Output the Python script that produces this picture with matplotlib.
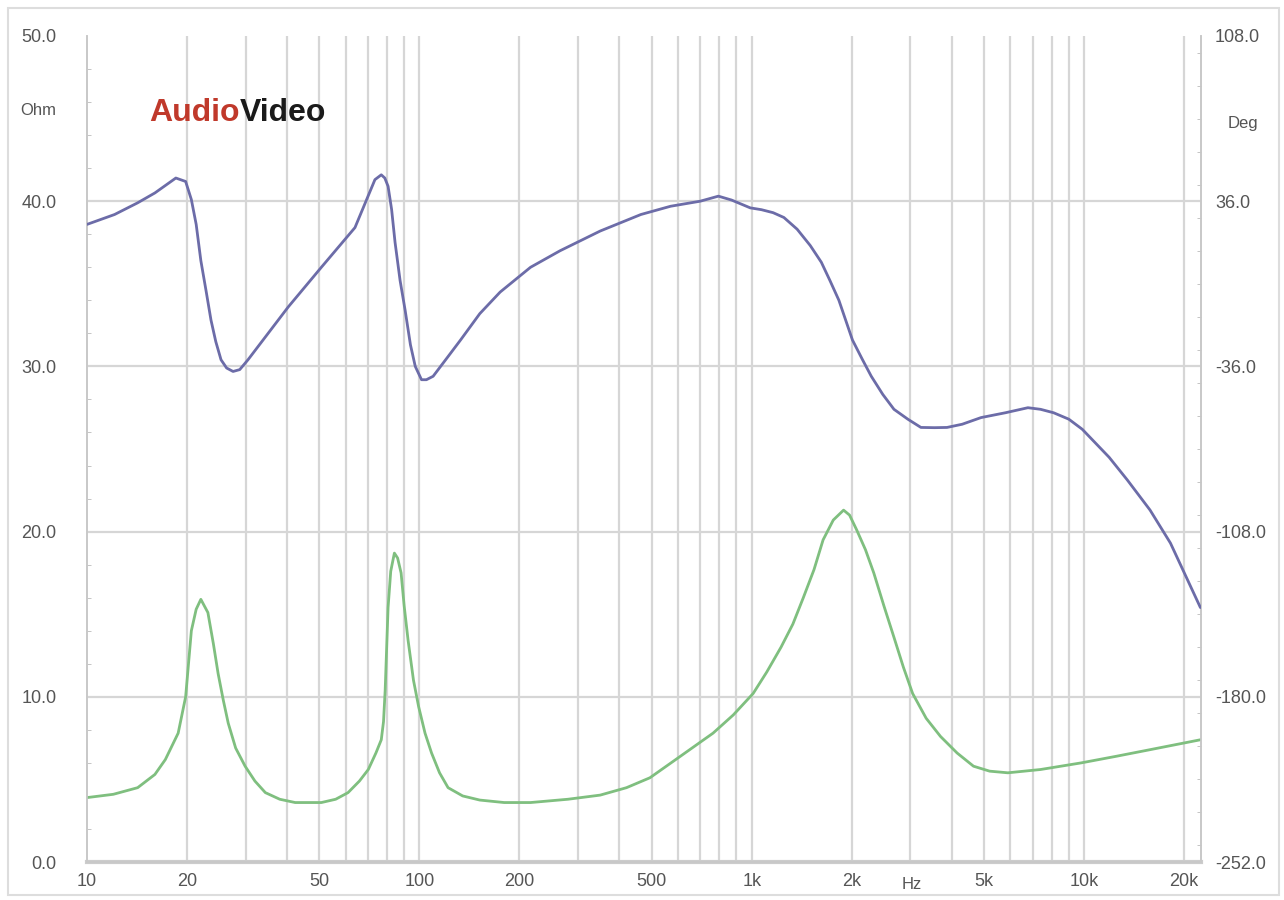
import numpy as np
import matplotlib
matplotlib.use("Agg")
from matplotlib import pyplot as plt
from matplotlib.ticker import FixedLocator, MultipleLocator, NullFormatter
from matplotlib.patches import Rectangle

# impedance magnitude (Ohm)
imp_freq = [10, 12, 14.2, 16, 17.2, 18.8, 19.8, 20.6, 21.3, 22.0, 23.1, 24.0, 24.8,
            25.7, 26.6, 28, 29.9, 32, 34.4, 38, 42.3, 50.7, 56, 61, 66, 70.2, 74,
            76.8, 78, 78.9, 80.5, 82, 84.1, 86, 88.1, 90, 92.5, 96, 99.5, 104, 108.8,
            115, 122, 135, 152, 180, 216, 280, 350, 420, 494, 610, 765, 880, 1010,
            1110, 1225, 1330, 1430, 1540, 1640, 1760, 1890, 1970, 2070, 2200, 2330,
            2500, 2680, 2860, 3050, 3350, 3700, 4150, 4650, 5200, 5900, 7400, 9800,
            12500, 15800, 22400]
imp_ohm = [3.9, 4.1, 4.5, 5.3, 6.2, 7.8, 10.0, 14.0, 15.3, 15.9, 15.1, 13.2, 11.4,
           9.8, 8.4, 6.9, 5.8, 4.9, 4.2, 3.8, 3.6, 3.6, 3.8, 4.2, 4.9, 5.6, 6.6,
           7.4, 8.5, 10.4, 15.4, 17.6, 18.7, 18.4, 17.5, 15.5, 13.4, 11.0, 9.4, 7.8, 6.6,
           5.4, 4.5, 4.0, 3.75, 3.6, 3.6, 3.8, 4.05, 4.5, 5.1, 6.4, 7.8, 8.9, 10.2,
           11.5, 13.0, 14.4, 16.0, 17.7, 19.5, 20.7, 21.3, 21.0, 20.1, 18.9, 17.5,
           15.5, 13.6, 11.8, 10.2, 8.7, 7.6, 6.6, 5.8, 5.5, 5.4, 5.6, 6.0,
           6.4, 6.8, 7.4]

ph_freq = [10, 12.1, 14.2, 16, 18.5, 19.8, 20.6, 21.3, 22.0, 22.8, 23.6, 24.4, 25.3,
           26.3, 27.5, 28.8, 30.5, 40.3, 50.7, 64.0, 73.5, 76.8, 78.7, 80.5, 82.5,
           84.5, 87.5, 90.6, 94, 97.2, 101.5, 105, 110, 122, 133, 152, 175, 216, 265,
           350, 464, 570, 700, 794, 870, 990, 1070, 1160, 1250, 1370, 1500, 1620, 1720,
           1830, 2010, 2150, 2290, 2480, 2680, 2950, 3230, 3550, 3870, 4300, 4900,
           5800, 6780, 7400, 8100, 9000, 9880, 11900, 13500, 15800, 18200, 22400]
ph_deg = [25.9, 30.2, 35.3, 39.6, 46.1, 44.6, 36.7, 25.9, 10.1, -2.9, -15.8, -25.2, -33.1,
          -36.7, -38.2, -37.4, -33.1, -10.1, 7.2, 24.5, 45.4, 47.5, 46.1, 42.5, 32.4,
          18.0, 1.4, -11.5, -26.6, -36.0, -41.8, -41.8, -40.3, -31.7, -24.5, -13.0, -3.6, 7.2, 14.4,
          23.0, 30.2, 33.8, 36.0, 38.2, 36.5, 33.1, 32.3, 31.0, 28.9, 23.8, 16.7, 9.4, 1.4,
          -7.2, -24.5, -32.8, -40.3, -48.2, -54.7, -59.0, -62.6, -62.7, -62.6, -61.2, -58.3,
          -56.2, -54.0, -54.7, -56.2, -59.0, -63.4, -75.6, -85.5, -98.6, -113.0, -141.1]

y_ticks = [0, 10, 20, 30, 40, 50]
deg_ticks = [-252, -180, -108, -36, 36, 108]
x_ticks = [10, 20, 50, 100, 200, 500, 1000, 2000, 5000, 10000, 20000]
x_labels = ["10", "20", "50", "100", "200", "500", "1k", "2k", "5k", "10k", "20k"]

plt.rcParams['font.family'] = ['Liberation Sans', 'DejaVu Sans']
txt = '#555555'
grid_c = '#d6d6d6'

fig = plt.figure(figsize=(12.84, 9.0), dpi=100)
fig.patches.append(Rectangle((0.006, 0.006), 0.99, 0.985, transform=fig.transFigure,
                             fill=False, edgecolor='#dddddd', lw=1.5))
ax = fig.add_axes([0.0678, 0.0422, 0.8676, 0.9178])
ax.set_xscale('log')
ax.set_xlim(10, 22500)
ax.set_ylim(0, 50)

# grid: every 1..9 per decade, horizontal every 10 ohm
minors = [m * 10 ** d for d in range(1, 5) for m in range(1, 10) if 10 < m * 10 ** d < 22500]
for f in minors:
    ax.axvline(f, color=grid_c, lw=1.6, zorder=0)
for v in y_ticks[1:-1]:
    ax.axhline(v, color=grid_c, lw=1.6, zorder=0)

ax.plot(imp_freq, imp_ohm, color='#7fbf7f', lw=2.0, zorder=3,
        solid_joinstyle='round', solid_capstyle='round')

ax2 = ax.twinx()
ax2.set_ylim(-252, 108)
ax2.plot(ph_freq, ph_deg, color='#6c6ca8', lw=2.0, zorder=3,
         solid_joinstyle='round', solid_capstyle='round')

ax.xaxis.set_major_locator(FixedLocator(x_ticks))
ax.set_xticklabels(x_labels)
ax.xaxis.set_minor_formatter(NullFormatter())
ax.tick_params(axis='x', which='both', length=0, pad=8, labelsize=13, colors=txt)
ax.set_yticks(y_ticks)
ax.set_yticklabels(["%.1f" % v for v in y_ticks])
ax.yaxis.set_minor_locator(MultipleLocator(2))
ax.tick_params(axis='y', which='major', length=0, pad=22, labelsize=13, colors=txt)
ax.tick_params(axis='y', which='minor', length=3, direction='in', color='#bbbbbb')

ax2.set_yticks(deg_ticks)
ax2.set_yticklabels(["%.1f" % v for v in deg_ticks])
ax2.yaxis.set_minor_locator(MultipleLocator(14.4))
ax2.tick_params(axis='y', which='major', length=0, pad=10, labelsize=13, colors=txt)
ax2.tick_params(axis='y', which='minor', length=3, direction='in', color='#bbbbbb')

for a in (ax, ax2):
    for s in a.spines.values():
        s.set_color('#c8c8c8')
        s.set_linewidth(1.2)
    a.spines['top'].set_visible(False)
ax.spines['bottom'].set_linewidth(3)
ax.spines['bottom'].set_color('#cccccc')

fig.text(0.016, 0.872, "Ohm", fontsize=12, color=txt)
fig.text(0.956, 0.858, "Deg", fontsize=12, color=txt)
fig.text(0.702, 0.012, "Hz", fontsize=12, color=txt)

# logo
logo = fig.text(0.116, 0.866, "Audio", fontsize=23, fontweight='bold', color='#c0392b')
fig.canvas.draw()
bb = logo.get_window_extent().transformed(fig.transFigure.inverted())
fig.text(bb.x1, 0.866, "Video", fontsize=23, fontweight='bold', color='#1a1a1a')

fig.savefig("out.png", dpi=100, facecolor='white')
